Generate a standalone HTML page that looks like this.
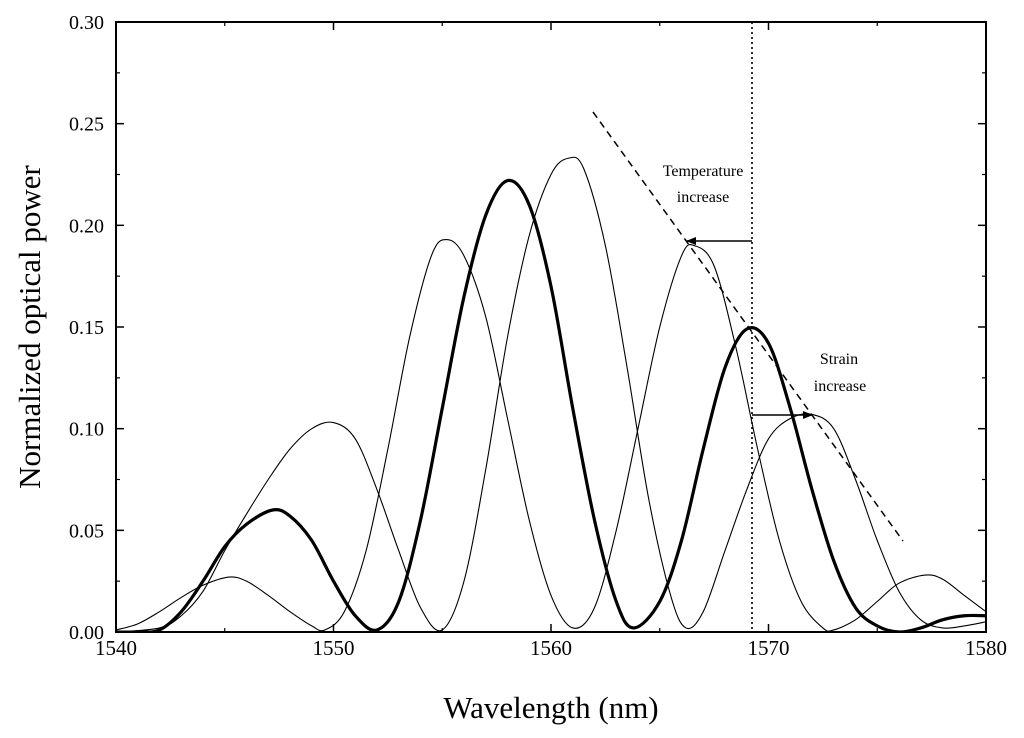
<!DOCTYPE html>
<html><head><meta charset="utf-8"><style>
html,body{margin:0;padding:0;background:#fff;}
svg{display:block;font-family:"Liberation Serif",serif;}
</style></head><body>
<svg id="chart" width="1024" height="738"></svg>
<script>
const xThick=[1540,1541,1542,1543,1544,1545,1546,1547.2,1548,1549,1550,1551,1552,1553,1554,1555,1556,1557,1558,1559,1560,1561,1562,1563,1563.8,1565,1566,1567,1568,1569,1570,1571,1572,1573,1574,1575,1576,1577,1578,1579,1580];
const yThick=[0,0,0.001,0.01,0.025,0.042,0.053,0.06,0.057,0.045,0.025,0.008,0.001,0.015,0.055,0.11,0.165,0.205,0.222,0.21,0.17,0.11,0.055,0.015,0.002,0.015,0.045,0.09,0.13,0.149,0.142,0.11,0.07,0.035,0.012,0.003,0,0.002,0.006,0.008,0.008];
const xThinA=[1540,1541,1542,1543,1544,1545.2,1546,1547,1548,1549,1549.6,1550.5,1551.5,1552.5,1553.5,1554.5,1555.2,1556,1557,1558,1559,1560,1561,1562,1563,1564,1565,1566,1566.6,1567.5,1568.5,1569.5,1570.5,1571.5,1572.5,1573,1574,1575,1576,1577.2,1578,1579,1580];
const yThinA=[0.001,0.004,0.01,0.017,0.023,0.027,0.025,0.018,0.01,0.003,0.001,0.01,0.04,0.09,0.145,0.185,0.193,0.185,0.155,0.105,0.055,0.018,0.002,0.012,0.05,0.1,0.15,0.185,0.19,0.18,0.14,0.09,0.045,0.015,0.002,0.001,0.006,0.015,0.024,0.028,0.026,0.018,0.01];
const xThinB=[1540,1542,1543,1544,1545,1546,1547,1548,1549,1550,1551,1552,1553,1554,1555,1556,1557,1558,1559,1560,1560.8,1561.5,1562.5,1563.5,1564.5,1565.5,1566.2,1567,1568,1569,1570,1571,1572,1573,1574,1575,1576,1577,1578,1579,1580];
const yThinB=[0,0.002,0.008,0.02,0.04,0.058,0.075,0.09,0.1,0.103,0.095,0.07,0.04,0.012,0.001,0.025,0.08,0.145,0.195,0.225,0.233,0.228,0.19,0.13,0.065,0.018,0.002,0.01,0.04,0.07,0.095,0.105,0.107,0.1,0.075,0.045,0.02,0.006,0.002,0.003,0.005];
const xTicks=[1540,1550,1560,1570,1580];
const yTicks=[0,0.05,0.10,0.15,0.20,0.25,0.30];

const L=116,R=986,T=22,B=632;
const sx=v=>L+(v-1540)/40*(R-L);
const sy=v=>B-v/0.30*(B-T);
const svg=document.getElementById('chart');
const NS='http://www.w3.org/2000/svg';
function mk(tag,attrs,parent){const e=document.createElementNS(NS,tag);for(const k in attrs)e.setAttribute(k,attrs[k]);(parent||svg).appendChild(e);return e;}
function pathD(xs,ys){const p=xs.map((x,i)=>[sx(x),sy(ys[i])]);let d='M'+p[0][0]+','+p[0][1];
for(let i=0;i<p.length-1;i++){const p0=p[i-1]||p[i],p1=p[i],p2=p[i+1],p3=p[i+2]||p2;
const c1=[p1[0]+(p2[0]-p0[0])/6,p1[1]+(p2[1]-p0[1])/6],c2=[p2[0]-(p3[0]-p1[0])/6,p2[1]-(p3[1]-p1[1])/6];
d+=' C'+c1+' '+c2+' '+p2;}return d;}

const defs=mk('defs',{});
const m=mk('marker',{id:'ah',markerWidth:10,markerHeight:8,refX:10,refY:4,orient:'auto',markerUnits:'userSpaceOnUse'},defs);
mk('path',{d:'M0,0 L10,4 L0,8 Z',fill:'#000'},m);

const clip=mk('clipPath',{id:'pc'},defs);mk('rect',{x:L,y:T,width:R-L,height:B-T},clip);
const g=mk('g',{'clip-path':'url(#pc)'});
let e;
e=mk('path',{d:pathD(xThinA,yThinA),fill:'none',stroke:'#000','stroke-width':1.1},g);
e=mk('path',{d:pathD(xThinB,yThinB),fill:'none',stroke:'#000','stroke-width':1.1},g);
e=mk('path',{d:pathD(xThick,yThick),fill:'none',stroke:'#000','stroke-width':3.2},g);

e=mk('line',{x1:593,y1:112,x2:903,y2:541,stroke:'#000','stroke-width':1.5,'stroke-dasharray':'7,5'});
e=mk('line',{x1:752,y1:T,x2:752,y2:B,stroke:'#000','stroke-width':1.6,'stroke-dasharray':'2,3'});
e=mk('line',{x1:752,y1:241,x2:686,y2:241,stroke:'#000','stroke-width':1.5,'marker-end':'url(#ah)'});
e=mk('line',{x1:752,y1:415,x2:813,y2:415,stroke:'#000','stroke-width':1.5,'marker-end':'url(#ah)'});
[['Temperature',703,176,'temperature-label'],['increase',703,202,'temperature-label-2'],['Strain',839,364,'strain-label'],['increase',840,391,'strain-label-2']].forEach(a=>{
e=mk('text',{x:a[1],y:a[2],'text-anchor':'middle','font-size':16});e.textContent=a[0];});

e=mk('rect',{x:L,y:T,width:R-L,height:B-T,fill:'none',stroke:'#000','stroke-width':2});
xTicks.forEach((v,i)=>{const x=sx(v);
mk('line',{x1:x,y1:B,x2:x,y2:B-8,stroke:'#000','stroke-width':1.5});mk('line',{x1:x,y1:T,x2:x,y2:T+8,stroke:'#000','stroke-width':1.5});
if(i<xTicks.length-1){const xm=sx(v+5);mk('line',{x1:xm,y1:B,x2:xm,y2:B-4,stroke:'#000','stroke-width':1.2});mk('line',{x1:xm,y1:T,x2:xm,y2:T+4,stroke:'#000','stroke-width':1.2});}
const t=mk('text',{x:x,y:B+23,'text-anchor':'middle','font-size':21});t.textContent=v;});
yTicks.forEach((v,i)=>{const y=sy(v);
mk('line',{x1:L,y1:y,x2:L+8,y2:y,stroke:'#000','stroke-width':1.5});mk('line',{x1:R,y1:y,x2:R-8,y2:y,stroke:'#000','stroke-width':1.5});
if(i<yTicks.length-1){const ym=sy(v+0.025);mk('line',{x1:L,y1:ym,x2:L+4,y2:ym,stroke:'#000','stroke-width':1.2});mk('line',{x1:R,y1:ym,x2:R-4,y2:ym,stroke:'#000','stroke-width':1.2});}
const t=mk('text',{x:L-12,y:y+7,'text-anchor':'end','font-size':20});t.textContent=v.toFixed(2);});
e=mk('text',{x:551,y:718,'text-anchor':'middle','font-size':31});e.textContent='Wavelength (nm)';
e=mk('text',{x:0,y:0,'text-anchor':'middle','font-size':31,transform:'translate(40,327) rotate(-90)'});e.textContent='Normalized optical power';
</script>
</body></html>
